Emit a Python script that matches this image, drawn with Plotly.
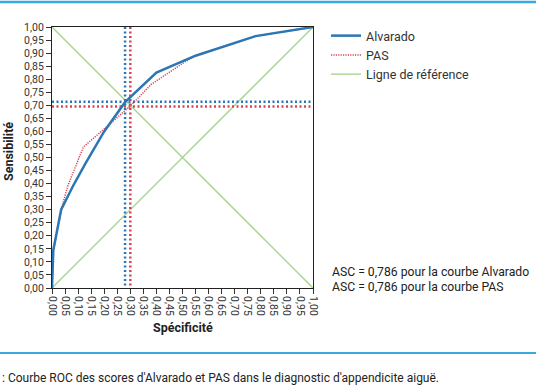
import plotly.graph_objects as go

# ROC data (x = Spécificité axis as labelled, y = Sensibilité)
alvarado_x = [0.0, 0.005, 0.035, 0.08, 0.13, 0.20, 0.28, 0.40, 0.55, 0.78, 1.0]
alvarado_y = [0.0, 0.145, 0.30, 0.39, 0.48, 0.60, 0.712, 0.825, 0.89, 0.965, 1.0]
pas_x = [0.0, 0.005, 0.035, 0.06, 0.12, 0.20, 0.30, 0.38, 0.51, 0.55, 0.78, 1.0]
pas_y = [0.0, 0.14, 0.30, 0.39, 0.54, 0.61, 0.697, 0.78, 0.867, 0.89, 0.965, 1.0]
ref_x = [0.0, 1.0]
ref_y = [0.0, 1.0]
ref2_y = [1.0, 0.0]

# Optimal cut-off points
alv_cut_spec, alv_cut_sens = 0.28, 0.714
pas_cut_spec, pas_cut_sens = 0.30, 0.695

tick_vals = [i * 0.05 for i in range(21)]
tick_text = [f"{v:.2f}".replace(".", ",") for v in tick_vals]

legend_names = ["Alvarado", "PAS", "Ligne de référence"]
asc_lines = ["ASC = 0,786 pour la courbe Alvarado", "ASC = 0,786 pour la courbe PAS"]
caption = ": Courbe ROC des scores d'Alvarado et PAS dans le diagnostic d'appendicite aiguë."

BLUE = "#2b77b5"
RED = "#d8434f"
GREEN = "#a3d487"
RULE = "#3aa7dd"
FONT = "Roboto"

fig = go.Figure()

# reference lines
fig.add_trace(go.Scatter(x=ref_x, y=ref_y, mode="lines", line=dict(color=GREEN, width=1.3),
                         name=legend_names[2], legendrank=3))
fig.add_trace(go.Scatter(x=ref_x, y=ref2_y, mode="lines", line=dict(color=GREEN, width=1.3),
                         showlegend=False))

# cut-off dotted lines
fig.add_trace(go.Scatter(x=[alv_cut_spec, alv_cut_spec], y=[0.01, 1.0], mode="lines",
                         line=dict(color=BLUE, width=2.5, dash="2px,2.5px"), showlegend=False))
fig.add_trace(go.Scatter(x=[pas_cut_spec, pas_cut_spec], y=[0.01, 1.0], mode="lines",
                         line=dict(color=RED, width=2.5, dash="2px,2.5px"), showlegend=False))
fig.add_trace(go.Scatter(x=[0.0, 1.0], y=[alv_cut_sens, alv_cut_sens], mode="lines",
                         line=dict(color=BLUE, width=2.5, dash="2px,2.5px"), showlegend=False))
fig.add_trace(go.Scatter(x=[0.0, 1.0], y=[pas_cut_sens, pas_cut_sens], mode="lines",
                         line=dict(color=RED, width=2.5, dash="2px,2.5px"), showlegend=False))

# curves
fig.add_trace(go.Scatter(x=pas_x, y=pas_y, mode="lines", line=dict(color=RED, width=1.5, dash="1.2px,1.2px"),
                         name=legend_names[1], legendrank=2))
fig.add_trace(go.Scatter(x=alvarado_x, y=alvarado_y, mode="lines", line=dict(color=BLUE, width=2.5),
                         name=legend_names[0], legendrank=1))

L, T, W, H = 52, 27, 261, 261
def px(x):
    return (x - L) / W
def py(y):
    return (T + H - y) / H

fig.update_layout(
    width=536, height=386,
    margin=dict(l=L, r=536 - L - W, t=T, b=386 - T - H, autoexpand=False),
    paper_bgcolor="white", plot_bgcolor="white",
    font=dict(family=FONT, size=10, color="#333"),
    showlegend=True,
    legend=dict(x=px(326), y=py(21), xanchor="left", yanchor="top",
                font=dict(size=12.5, color="#333"), bgcolor="rgba(0,0,0,0)",
                tracegroupgap=0, itemwidth=30),
    xaxis=dict(range=[0, 1], tickvals=tick_vals, ticktext=tick_text, tickangle=90, automargin=False,
               ticks="outside", ticklen=5, tickcolor="#333", showgrid=False, zeroline=False,
               showline=True, linecolor="#222", linewidth=1, mirror=True,
               tickfont=dict(size=10.5, color="#333")),
    yaxis=dict(range=[0, 1], tickvals=tick_vals, ticktext=tick_text, automargin=False,
               ticks="outside", ticklen=5, tickcolor="#333", showgrid=False, zeroline=False,
               showline=True, linecolor="#222", linewidth=1, mirror=True,
               tickfont=dict(size=10.5, color="#333")),
    shapes=[
        dict(type="line", xref="paper", yref="paper", x0=px(0), x1=px(536), y0=py(2), y1=py(2),
             line=dict(color=RULE, width=2.5), layer="above"),
        dict(type="line", xref="paper", yref="paper", x0=px(0), x1=px(536), y0=py(353), y1=py(353),
             line=dict(color=RULE, width=2), layer="above"),
    ],
    annotations=[
        dict(text="<b>Sensibilité</b>", xref="paper", yref="paper", x=px(8), y=py(152),
             xanchor="center", yanchor="middle",
             textangle=-90, showarrow=False, font=dict(size=12.5, color="#222")),
        dict(text="<b>Spécificité</b>", xref="paper", yref="paper", x=px(183), y=py(327),
             xanchor="center", yanchor="middle", showarrow=False, font=dict(size=12.5, color="#222")),
        dict(text=asc_lines[0], xref="paper", yref="paper", x=px(330), y=py(272), xanchor="left",
             yanchor="middle", showarrow=False, font=dict(size=12.2, color="#222")),
        dict(text=asc_lines[1], xref="paper", yref="paper", x=px(330), y=py(287), xanchor="left",
             yanchor="middle", showarrow=False, font=dict(size=12.2, color="#222")),
        dict(text=caption, xref="paper", yref="paper", x=px(0), y=py(378), xanchor="left",
             yanchor="middle", showarrow=False, font=dict(size=12, color="#222")),
    ],
)

fig.write_html(
    "out.html", config={"displayModeBar": False},
    post_script="var d=document.getElementById('{plot_id}');"
                "d.style.position='absolute';d.style.left='0px';d.style.top='0px';",
)
